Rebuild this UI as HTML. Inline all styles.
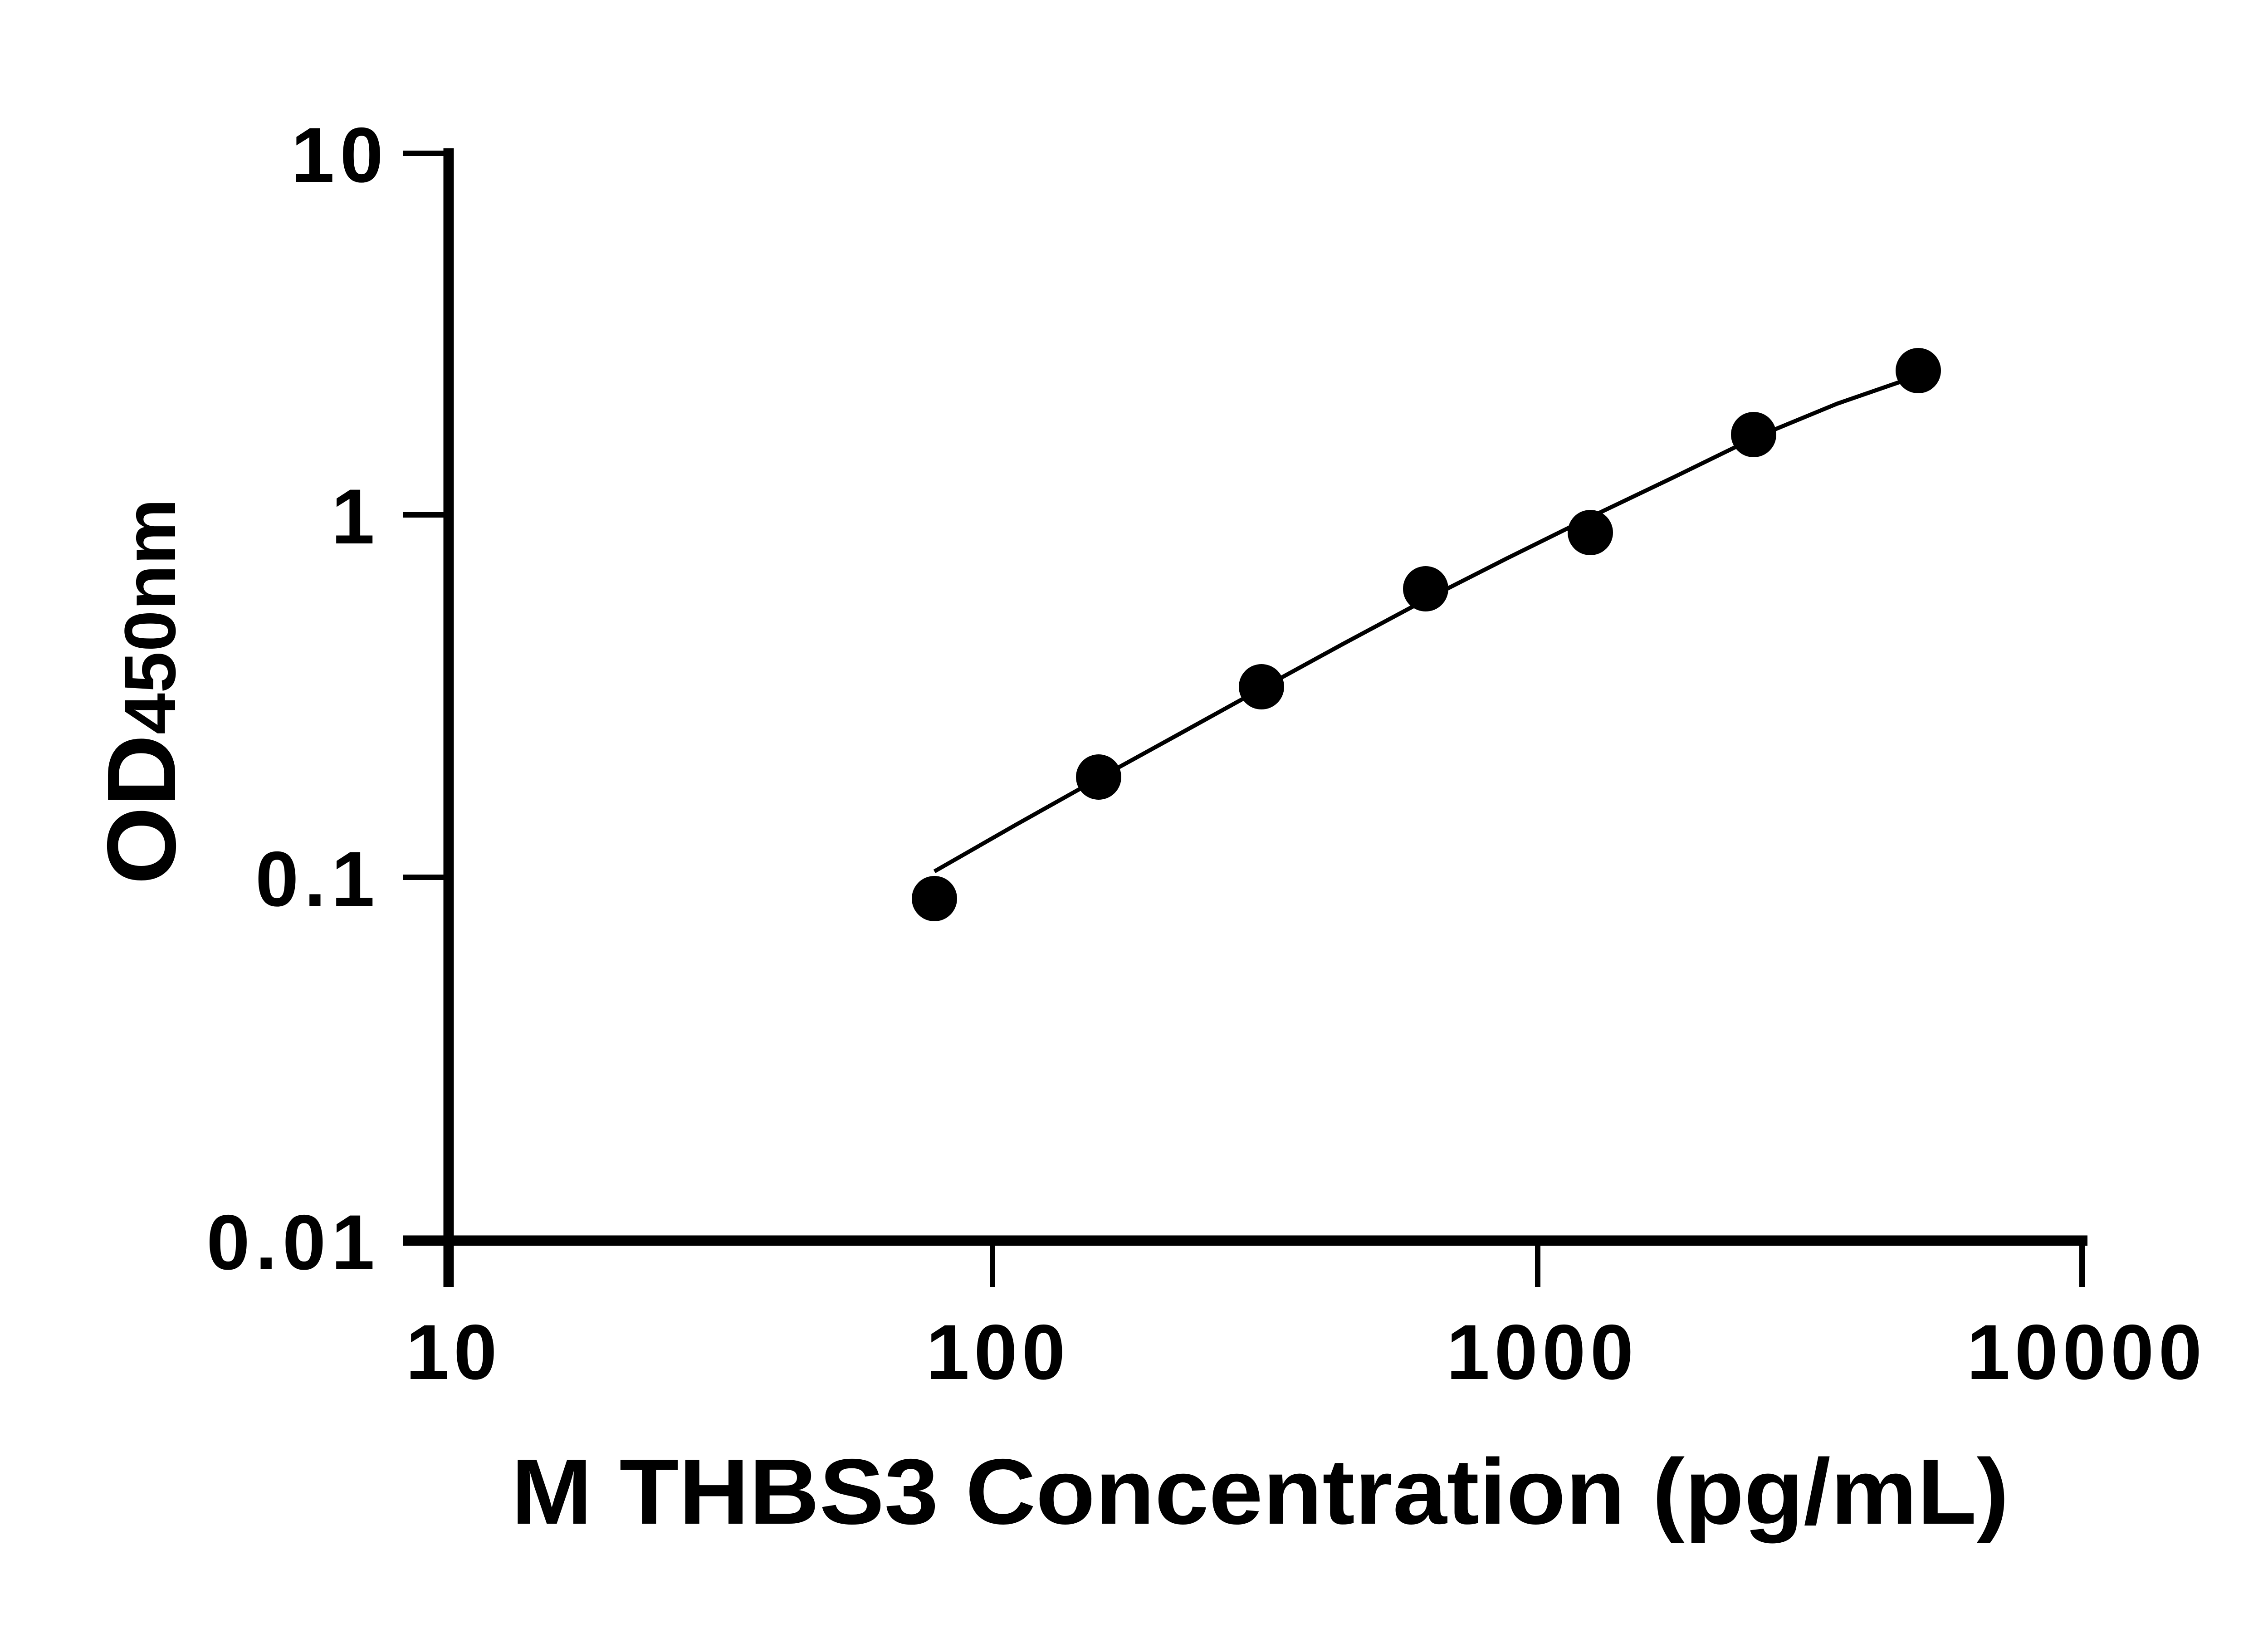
<!DOCTYPE html>
<html><head><meta charset="utf-8"><style>html,body{margin:0;padding:0;background:#fff}svg{display:block}</style></head>
<body>
<svg width="5142" height="3600" viewBox="0 0 5142 3600" xmlns="http://www.w3.org/2000/svg">
<g stroke="#000" fill="none">
<line x1="989" y1="327" x2="989" y2="2837" stroke-width="23"/>
<line x1="888" y1="2735" x2="4602" y2="2735" stroke-width="23"/>
<g stroke-width="12">
<line x1="888" y1="338" x2="989" y2="338"/>
<line x1="888" y1="1135" x2="989" y2="1135"/>
<line x1="888" y1="1934" x2="989" y2="1934"/>
<line x1="2188" y1="2735" x2="2188" y2="2837"/>
<line x1="3390" y1="2735" x2="3390" y2="2837"/>
<line x1="4590" y1="2735" x2="4590" y2="2837"/>
</g>
<polyline stroke-width="9" points="2060,1921 2240,1818 2422,1716 2600,1618 2781,1518 2960,1420 3143,1322 3320,1232 3506,1140 3690,1052 3866,966 4050,890 4229,828"/>
</g>
<g fill="#000">
<circle cx="2060" cy="1981" r="50"/>
<circle cx="2422" cy="1713" r="50"/>
<circle cx="2781" cy="1514" r="50"/>
<circle cx="3143" cy="1298" r="50"/>
<circle cx="3506" cy="1174" r="50"/>
<circle cx="3866" cy="958" r="50"/>
<circle cx="4229" cy="817" r="50"/>
</g>
<g font-family="Liberation Sans, sans-serif" font-weight="bold" font-size="172" fill="#000" text-anchor="end" letter-spacing="12">
<text x="857" y="401">10</text>
<text x="838" y="1198">1</text>
<text x="838" y="1997">0.1</text>
<text x="838" y="2798">0.01</text>
</g>
<g font-family="Liberation Sans, sans-serif" font-weight="bold" font-size="172" fill="#000" text-anchor="middle" letter-spacing="10">
<text x="1000" y="3040">10</text>
<text x="2200" y="3040">100</text>
<text x="3400" y="3040">1000</text>
<text x="4600" y="3040">10000</text>
</g>
<text x="1127" y="3359" font-family="Liberation Sans, sans-serif" font-weight="bold" font-size="205" textLength="3302" lengthAdjust="spacingAndGlyphs" fill="#000">M THBS3 Concentration (pg/mL)</text>
<text transform="translate(386,1950) rotate(-90)" font-family="Liberation Sans, sans-serif" font-weight="bold" fill="#000" textLength="851" lengthAdjust="spacingAndGlyphs"><tspan font-size="215">OD</tspan><tspan font-size="160">450nm</tspan></text>
</svg>
</body></html>
